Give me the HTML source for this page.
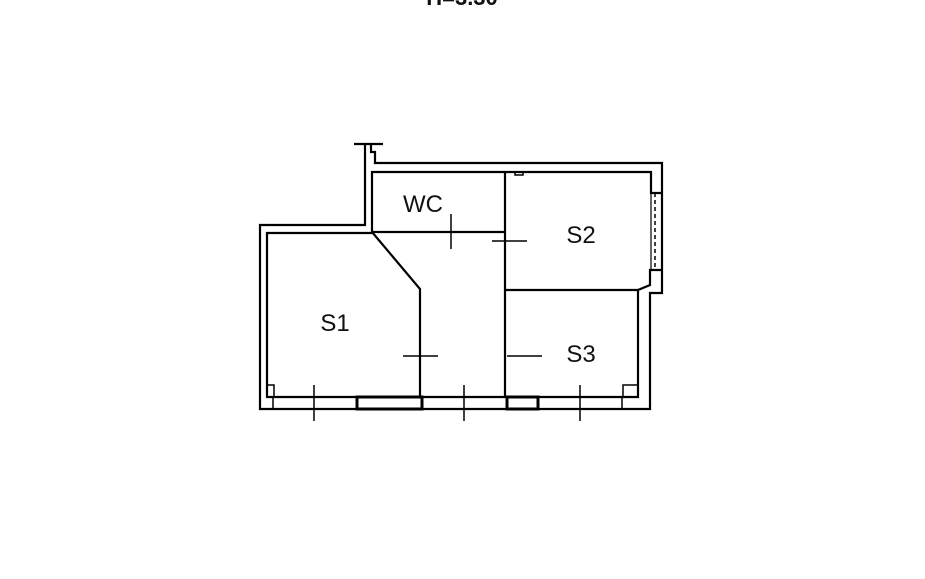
<!DOCTYPE html>
<html><head><style>
html,body{margin:0;padding:0;background:#fff;}
svg{display:block;}
text{font-family:"Liberation Sans",sans-serif;font-size:24px;fill:#111;}
</style></head><body>
<svg width="925" height="579" viewBox="0 0 925 579">
<text x="462" y="5" text-anchor="middle" style="font-weight:bold;font-size:22px">H=3.30</text>
<g stroke="#000" stroke-width="2.2" fill="none">
<polyline points="365,145 365,225 260,225 260,409 650,409 650,293 662,293 662,163 375,163 375,152 371,152 371,145"/>
<line x1="354" y1="144" x2="383" y2="144"/>
<polyline points="372,233 267,233 267,397 638,397 638,290 650,285 650,270 662,270"/>
<polyline points="372,233 372,172 651,172 651,193 662,193"/>
<line x1="655" y1="193" x2="655" y2="270" stroke-dasharray="4,3" stroke-width="1.5"/>
<line x1="651" y1="270" x2="651" y2="193" stroke-width="1.2"/>
<path d="M515,172 v3 h8 v-3 M267,385 h7 v12 M638,385 h-15 v12" stroke-width="1.5"/>
<line x1="372" y1="232" x2="505" y2="232"/>
<line x1="505" y1="172" x2="505" y2="397"/>
<polyline points="372,232 420,289 420,397"/>
<line x1="505" y1="290" x2="638" y2="290"/>
<rect x="357" y="397" width="65" height="12" stroke-width="3"/>
<rect x="507" y="397" width="31" height="12" stroke-width="3"/>
<line x1="273" y1="397" x2="273" y2="409" stroke-width="1.5"/>
<line x1="622" y1="397" x2="622" y2="409" stroke-width="1.5"/>
<g stroke-width="1.5">
<line x1="451" y1="214" x2="451" y2="249"/>
<line x1="492" y1="241" x2="527" y2="241"/>
<line x1="403" y1="356" x2="438" y2="356"/>
<line x1="507" y1="356" x2="542" y2="356"/>
<line x1="314" y1="385" x2="314" y2="421"/>
<line x1="464" y1="385" x2="464" y2="421"/>
<line x1="580" y1="385" x2="580" y2="421"/>
</g>
</g>
<text x="423" y="212" text-anchor="middle">WC</text>
<text x="581" y="243" text-anchor="middle">S2</text>
<text x="581" y="362" text-anchor="middle">S3</text>
<text x="335" y="331" text-anchor="middle">S1</text>
</svg>
</body></html>
